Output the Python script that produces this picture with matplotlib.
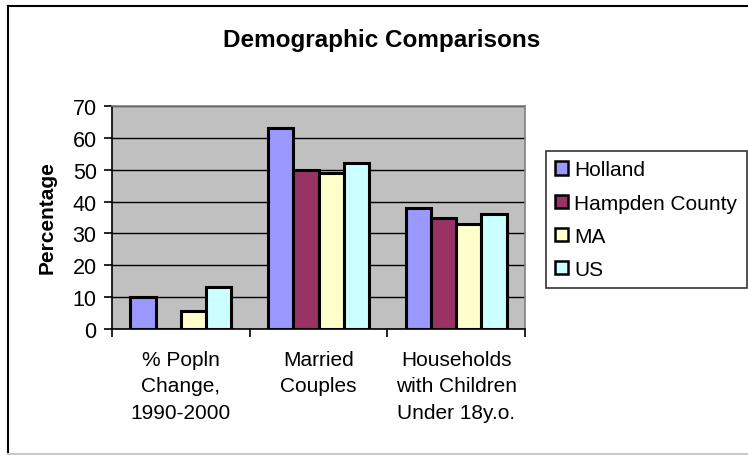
import matplotlib
matplotlib.use("Agg")
import matplotlib.pyplot as plt
import numpy as np
from matplotlib.lines import Line2D

plt.rcParams['font.family'] = ['Liberation Sans', 'DejaVu Sans']

categories = ["% Popln\nChange,\n1990-2000", "Married\nCouples", "Households\nwith Children\nUnder 18y.o."]
series_names = ["Holland", "Hampden County", "MA", "US"]
holland = [10, 63, 38]
hampden = [0, 50, 35]
ma = [5.5, 49, 33]
us = [13.2, 52, 36]
series_values = [holland, hampden, ma, us]
colors = ["#9999FF", "#993366", "#FFFFCC", "#CCFFFF"]
y_ticks = [0, 10, 20, 30, 40, 50, 60, 70]

W, H = 748, 456
fig = plt.figure(figsize=(W / 100, H / 100), dpi=100)
ax = fig.add_axes([112 / W, 1 - 330 / H, (525 - 112) / W, (330 - 107) / H])
ax.set_facecolor("#C0C0C0")

x = np.arange(len(categories))
w = 0.184
for i, (name, vals, col) in enumerate(zip(series_names, series_values, colors)):
    ax.bar(x + (i - 1.5) * w, vals, width=w, color=col, edgecolor="black",
           linewidth=2.2, label=name, zorder=3)

ax.set_xlim(-0.5, len(categories) - 0.5)
ax.set_ylim(0, 70)
ax.set_yticks(y_ticks)
ax.set_yticklabels([str(v) for v in y_ticks], fontsize=15.5)
ax.yaxis.grid(True, color="black", linewidth=1, zorder=1)
ax.set_axisbelow(True)

# category labels sit between boundary ticks
ax.set_xticks(np.arange(len(categories) + 1) - 0.5)
ax.set_xticklabels([])
ax.set_xticks(x, minor=True)
ax.set_xticklabels(categories, minor=True, fontsize=15, linespacing=1.5)
ax.tick_params(axis="x", which="minor", length=0, pad=15)
ax.tick_params(axis="x", which="major", direction="out", length=6, width=1.2, color="black")
ax.tick_params(axis="y", direction="out", length=6, width=1.2, color="black", pad=5)

for side in ("top", "right"):
    ax.spines[side].set_color("#808080")
    ax.spines[side].set_linewidth(1.2)
for side in ("left", "bottom"):
    ax.spines[side].set_color("black")
    ax.spines[side].set_linewidth(1.2)

fig.text(382 / W, 1 - 40 / H, "Demographic Comparisons", ha="center", va="center",
         fontsize=17.5, fontweight="bold")
fig.text(47 / W, 1 - 218 / H, "Percentage", ha="center", va="center",
         rotation=90, fontsize=15, fontweight="bold")

leg = fig.legend(loc="upper left", bbox_to_anchor=(546 / W, 1 - 152 / H),
                 bbox_transform=fig.transFigure, fontsize=15, frameon=True,
                 fancybox=False, handlelength=0.6, handleheight=0.6,
                 handletextpad=0.3, labelspacing=0.68, borderpad=0.45,
                 borderaxespad=0)
leg.get_frame().set_edgecolor("black")
leg.get_frame().set_linewidth(1.2)
for h in leg.legend_handles:
    h.set_linewidth(1.8)

# outer chart border
fig.add_artist(Line2D([8 / W, 8 / W], [1 - 7 / H, 1 - 455 / H], transform=fig.transFigure,
                      color="black", linewidth=1.5))
fig.add_artist(Line2D([8 / W, 1], [1 - 7 / H, 1 - 7 / H], transform=fig.transFigure,
                      color="black", linewidth=1.5))
fig.add_artist(Line2D([8 / W, 1], [1 - 455 / H, 1 - 455 / H], transform=fig.transFigure,
                      color="#C8C8C8", linewidth=1.5))

fig.savefig("out.png", dpi=100)
